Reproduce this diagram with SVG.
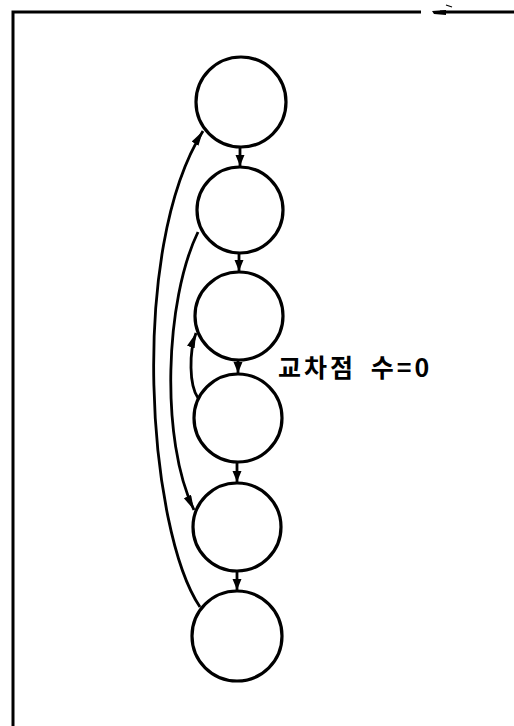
<svg xmlns="http://www.w3.org/2000/svg" width="514" height="726" viewBox="0 0 514 726">
<style>
.node{fill:#fff;stroke:#000;stroke-width:3.2}
.edge{fill:none;stroke:#000;stroke-width:2.8}
.frame{fill:none;stroke:#000;stroke-width:3}
.lbl{font-family:"Noto Sans CJK KR","Noto Sans",sans-serif;font-size:25px;font-weight:bold;fill:#000;letter-spacing:3px;word-spacing:6px}
</style>
<defs>
<marker id="ah" markerUnits="userSpaceOnUse" markerWidth="16" markerHeight="10" refX="15" refY="4" orient="auto">
<path d="M0,0 L15,4 L0,8 z" fill="#000"/>
</marker>
<marker id="as" markerUnits="userSpaceOnUse" markerWidth="12" markerHeight="10" refX="11" refY="4.5" orient="auto">
<path d="M0,0 L11,4.5 L0,9 z" fill="#000"/>
</marker>
</defs>
<g id="frame">
<path class="frame" d="M13,726 L13,12 L421,12"/>
<path class="frame" d="M440,12 L514,12"/>
<path d="M432,11 L446,10 L446,15 L434,14 z" fill="#000"/>
<path d="M446,5 L452,7" stroke="#000" stroke-width="1.2"/>
</g>
<g id="edges">
<line class="edge" x1="240" y1="148" x2="240" y2="166" marker-end="url(#as)"/>
<line class="edge" x1="239" y1="254" x2="239" y2="271" marker-end="url(#as)"/>
<line class="edge" x1="238" y1="361" x2="238" y2="373" marker-end="url(#as)"/>
<line class="edge" x1="237" y1="463" x2="237" y2="482" marker-end="url(#as)"/>
<line class="edge" x1="237" y1="572" x2="237" y2="590" marker-end="url(#as)"/>
<path class="edge" d="M200,607 C148,530 128,250 203,131" marker-end="url(#ah)"/>
<path class="edge" d="M198,232 C165,300 160,440 194,510" marker-end="url(#ah)"/>
<path class="edge" d="M198,398 C189,385 189,352 196,333" marker-end="url(#ah)"/>
</g>
<g id="n1"><circle class="node" cx="241" cy="102" r="45"/></g>
<g id="n2"><circle class="node" cx="240" cy="210" r="43"/></g>
<g id="n3"><circle class="node" cx="239" cy="316" r="44"/></g>
<g id="n4"><circle class="node" cx="238" cy="418" r="44"/></g>
<g id="n5"><circle class="node" cx="237" cy="527" r="44"/></g>
<g id="n6"><circle class="node" cx="237" cy="636" r="45"/></g>
<g id="label"><text class="lbl" x="278" y="377">교차점 수=0</text></g>
</svg>
